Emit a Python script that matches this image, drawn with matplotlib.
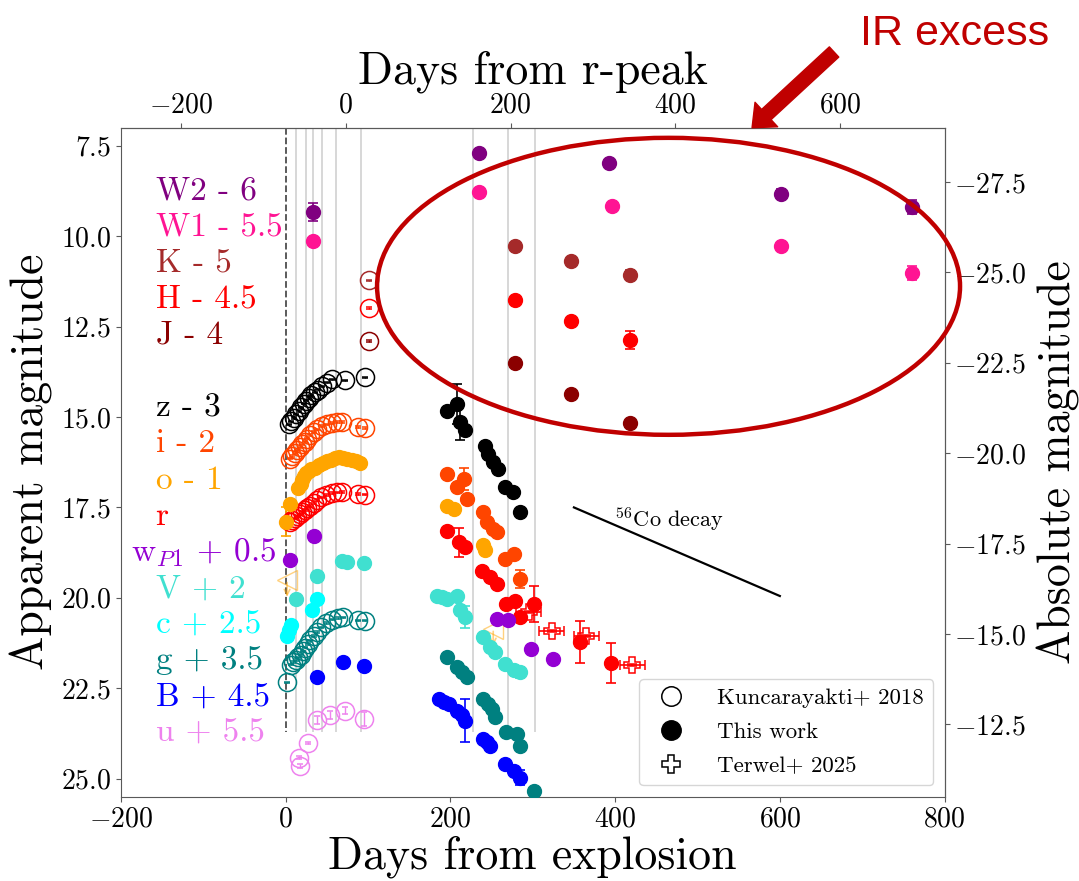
import numpy as np
import matplotlib.pyplot as plt
from matplotlib.lines import Line2D
from matplotlib.patches import Ellipse, FancyArrowPatch, ArrowStyle

plt.rcParams['font.family'] = ['cmr10', 'DejaVu Serif']
plt.rcParams['mathtext.fontset'] = 'cm'
plt.rcParams['axes.formatter.use_mathtext'] = True
plt.rcParams['axes.unicode_minus'] = True

R_PEAK = 73.0      # r-band peak, days after explosion
DIST_MOD = 36.0    # distance modulus

# ---- Kuncarayakti+ 2018 (open circles), offsets already applied ----
z_k_days = [4, 7, 10, 13, 16, 19, 22, 25, 28, 31, 35, 39, 44, 50, 56, 72, 96]
z_k_mags = [15.2, 15.12, 15.03, 14.93, 14.83, 14.73, 14.63, 14.55, 14.47, 14.4,
            14.32, 14.24, 14.15, 14.05, 13.96, 13.99, 13.9]
i_k_days = [5, 8, 11, 14, 17, 20, 23, 26, 30, 34, 38, 44, 50, 56, 62, 68, 88, 96]
i_k_mags = [16.15, 16.08, 16.0, 15.92, 15.84, 15.76, 15.68, 15.6, 15.5, 15.42,
            15.34, 15.25, 15.2, 15.16, 15.14, 15.14, 15.27, 15.3]
r_k_days = [5, 8, 11, 14, 17, 20, 23, 26, 30, 34, 38, 43, 49, 56, 62, 68, 88, 96]
r_k_mags = [17.9, 17.85, 17.8, 17.75, 17.69, 17.63, 17.57, 17.52, 17.46, 17.38,
            17.3, 17.22, 17.16, 17.1, 17.08, 17.07, 17.13, 17.15]
g_k_days = [2, 6, 9, 12, 15, 18, 21, 24, 27, 30, 34, 38, 43, 49, 56, 63, 70, 88, 96]
g_k_mags = [22.34, 21.85, 21.78, 21.72, 21.65, 21.57, 21.48, 21.38, 21.28, 21.18,
            21.06, 20.95, 20.82, 20.7, 20.6, 20.56, 20.54, 20.62, 20.63]
u_k_days = [15.8, 17.8, 26.7, 38, 53.4, 72.4, 95.5]
u_k_mags = [24.42, 24.65, 24.02, 23.38, 23.24, 23.12, 23.35]
u_k_errs = [0.05, 0.05, 0.03, 0.1, 0.12, 0.1, 0.2]
nir_k_day = 101
K_k_mag, H_k_mag, J_k_mag = 11.22, 11.99, 12.9

# ---- This work (filled circles) ----
W2_days = [32.7, 234.5, 392.5, 601, 760]
W2_mags = [9.34, 7.71, 7.97, 8.82, 9.19]
W2_errs = [0.25, 0.03, 0.03, 0.12, 0.2]
W1_days = [32.7, 235, 396, 601, 760]
W1_mags = [10.13, 8.77, 9.16, 10.28, 11.02]
W1_errs = [0.03, 0.03, 0.03, 0.03, 0.2]
nir_days = [278, 346.5, 417.5]
K_mags = [10.28, 10.69, 11.06]
K_errs = [0.03, 0.03, 0.12]
H_mags = [11.77, 12.35, 12.88]
H_errs = [0.03, 0.03, 0.25]
J_mags = [13.51, 14.36, 15.17]
J_errs = [0.03, 0.03, 0.03]

z_days = [196, 208, 212, 218, 242, 246, 252, 258, 266, 276, 285]
z_mags = [14.82, 14.63, 15.14, 15.37, 15.79, 16.02, 16.25, 16.43, 16.94, 17.08, 17.63]
z_errs = [0.05, 0.55, 0.5, 0.05, 0.05, 0.05, 0.05, 0.05, 0.05, 0.05, 0.08]
i_days = [196, 208, 216, 220, 240, 244, 252, 256, 266, 277, 285]
i_mags = [16.57, 16.94, 16.71, 17.26, 17.63, 17.91, 18.09, 18.19, 18.92, 18.78, 19.48]
i_errs = [0.05, 0.05, 0.3, 0.05, 0.05, 0.05, 0.05, 0.05, 0.05, 0.05, 0.25]
o_days = [0.5, 5, 15, 18, 20, 22, 25, 28, 31, 35, 40, 45, 50, 55, 60, 65, 70,
          75, 80, 85, 90, 196, 204, 240, 242]
o_mags = [17.9, 17.4, 16.95, 16.85, 16.75, 16.62, 16.55, 16.5, 16.45, 16.4, 16.33,
          16.27, 16.22, 16.18, 16.13, 16.1, 16.12, 16.15, 16.18, 16.22, 16.27,
          17.45, 17.54, 18.55, 18.69]
o_lim_days = [1.7, 252]
o_lim_mags = [19.5, 20.85]
r_days = [196, 210, 218, 238, 248, 256, 268, 279, 285, 301, 357, 395]
r_mags = [18.14, 18.46, 18.6, 19.25, 19.43, 19.62, 20.17, 20.08, 20.54, 20.17, 21.23, 21.81]
r_errs = [0.05, 0.4, 0.05, 0.05, 0.05, 0.05, 0.05, 0.05, 0.05, 0.5, 0.58, 0.55]
w_days = [5, 34, 256, 270, 298, 324]
w_mags = [18.95, 18.28, 20.58, 20.61, 21.41, 21.69]
V_days = [12, 38, 68, 74, 95, 184, 190, 196, 208, 212, 218, 240, 248, 254, 266, 277, 285]
V_mags = [20.03, 19.39, 18.98, 19.0, 19.03, 19.94, 19.98, 20.03, 19.94, 20.35, 20.54,
          21.09, 21.37, 21.51, 21.83, 22.01, 22.06]
V_errs = [0.05] * 10 + [0.3, 0.05, 0.05, 0.05, 0.05, 0.05, 0.15]
c_days = [1.5, 4, 7, 32, 38]
c_mags = [21.05, 20.9, 20.75, 20.35, 20.03]
g_days = [196, 208, 214, 220, 240, 246, 250, 254, 268, 281, 285, 301]
g_mags = [21.65, 21.92, 22.05, 22.2, 22.8, 22.95, 23.08, 23.31, 23.72, 23.77, 24.09, 25.34]
B_days = [38, 70, 95, 186, 192, 198, 208, 214, 218, 240, 244, 248, 266, 277, 285]
B_mags = [22.18, 21.78, 21.88, 22.8, 22.88, 22.94, 23.12, 23.25, 23.4, 23.9, 24.0,
          24.09, 24.6, 24.78, 24.97]
B_errs = [0.05] * 8 + [0.6, 0.05, 0.05, 0.05, 0.05, 0.05, 0.2]

# ---- Terwel+ 2025 (open plus) ----
r_t_days = [295, 323, 365, 421]
r_t_mags = [20.4, 20.91, 21.05, 21.85]
r_t_xerr = [15, 15, 15, 15]

spec_days = [12, 25, 33, 44, 61, 91, 227, 270, 303]
co_days = [350, 600]
co_mags = [17.5, 19.95]

band_labels = ['W2 - 6', 'W1 - 5.5', 'K - 5', 'H - 4.5', 'J - 4',
               'z - 3', 'i - 2', 'o - 1', 'r', r'w$_{P1}$ + 0.5', 'V + 2',
               'c + 2.5', 'g + 3.5', 'B + 4.5', 'u + 5.5']
band_colors = ['purple', 'deeppink', 'brown', 'red', 'darkred',
               'black', 'orangered', 'orange', 'red', 'darkviolet', 'turquoise',
               'cyan', 'teal', 'blue', 'violet']
label_rows = [0, 1, 2, 3, 4, 6, 7, 8, 9, 10, 11, 12, 13, 14, 15]


def filled(ax, d, m, c, e=None):
    ax.errorbar(d, m, yerr=e, fmt='o', color=c, ms=10, capsize=3.5,
                elinewidth=1.2, capthick=1.2, zorder=3)


def opened(ax, d, m, c, e=0.02):
    ax.errorbar(d, m, yerr=e, fmt='o', color=c, mfc='none', mec=c, ms=13,
                mew=1.1, capsize=2.5, elinewidth=1.0, zorder=3)


def main():
    fig = plt.figure(figsize=(10.79, 8.81), dpi=100)
    ax = fig.add_axes([0.1121, 0.0957, 0.7633, 0.7593])

    ax.vlines(spec_days, 7.0, 23.7, colors='0.82', lw=1.2, zorder=0)
    ax.vlines(0, 7.0, 23.7, colors='0.3', linestyles='--', lw=1.3, zorder=0)

    # early Kuncarayakti
    opened(ax, z_k_days, z_k_mags, 'black')
    opened(ax, i_k_days, i_k_mags, 'orangered')
    opened(ax, r_k_days, r_k_mags, 'red')
    opened(ax, g_k_days, g_k_mags, 'teal')
    opened(ax, u_k_days, u_k_mags, 'violet', u_k_errs)
    opened(ax, [nir_k_day], [K_k_mag], 'brown')
    opened(ax, [nir_k_day], [H_k_mag], 'red')
    opened(ax, [nir_k_day], [J_k_mag], 'darkred')

    # this work
    filled(ax, W2_days, W2_mags, 'purple', W2_errs)
    filled(ax, W1_days, W1_mags, 'deeppink', W1_errs)
    filled(ax, nir_days, K_mags, 'brown', K_errs)
    filled(ax, nir_days, H_mags, 'red', H_errs)
    filled(ax, nir_days, J_mags, 'darkred', J_errs)
    filled(ax, z_days, z_mags, 'black', z_errs)
    filled(ax, i_days, i_mags, 'orangered', i_errs)
    filled(ax, o_days, o_mags, 'orange', [0.4] + [0.03] * (len(o_days) - 1))
    filled(ax, r_days, r_mags, 'red', r_errs)
    filled(ax, w_days, w_mags, 'darkviolet')
    filled(ax, V_days, V_mags, 'turquoise', V_errs)
    filled(ax, c_days, c_mags, 'cyan')
    filled(ax, g_days, g_mags, 'teal')
    filled(ax, B_days, B_mags, 'blue', B_errs)

    # o-band upper limits
    ax.plot(o_lim_days, o_lim_mags, '<', mfc='none', mec='orange', ms=14,
            alpha=0.5, zorder=2)
    for d, m in zip(o_lim_days, o_lim_mags):
        ax.annotate('', xy=(d, m + 0.55), xytext=(d, m),
                    arrowprops=dict(arrowstyle='->', color='orange', alpha=0.5, lw=1.2))

    # Terwel
    ax.errorbar(r_t_days, r_t_mags, xerr=r_t_xerr, yerr=0.03, fmt='P', color='red',
                mfc='none', mec='red', ms=11, mew=1.1, capsize=3.5, elinewidth=1.2,
                zorder=3)

    ax.plot(co_days, co_mags, color='black', lw=1.6)
    ax.text(400, 18.03, r'$^{56}$Co decay', fontsize=16, va='baseline')

    for lab, col, row in zip(band_labels, band_colors, label_rows):
        x = -188 if lab.startswith('w') else -158
        ax.text(x, 8.98 + row, lab, color=col, fontsize=24, va='baseline')

    ax.set_xlim(-200, 800)
    ax.set_ylim(25.5, 7.0)
    ax.set_yticks(np.arange(7.5, 25.1, 2.5))
    ax.set_xticks([-200, 0, 200, 400, 600, 800])
    ax.set_xlabel('Days from explosion', fontsize=33, labelpad=2)
    ax.set_ylabel('Apparent magnitude', fontsize=33, labelpad=6)
    ax.tick_params(labelsize=20, color='0.35')
    for s in ax.spines.values():
        s.set_color('0.35')

    top = ax.secondary_xaxis('top', functions=(lambda x: x - R_PEAK, lambda x: x + R_PEAK))
    top.set_xticks([-200, 0, 200, 400, 600])
    top.set_xlabel('Days from r-peak', fontsize=33, labelpad=6)
    top.tick_params(labelsize=20, color='0.35')
    top.spines['top'].set_color('0.35')

    right = ax.secondary_yaxis('right', functions=(lambda m: m - DIST_MOD,
                                                   lambda M: M + DIST_MOD))
    right.set_yticks([-27.5, -25.0, -22.5, -20.0, -17.5, -15.0, -12.5])
    right.set_ylabel('Absolute magnitude', fontsize=33, labelpad=8)
    right.tick_params(labelsize=20, color='0.35')
    right.spines['right'].set_color('0.35')

    handles = [Line2D([], [], marker='o', ls='', mfc='none', mec='k', ms=14, mew=1.1),
               Line2D([], [], marker='o', ls='', color='k', ms=14),
               Line2D([], [], marker='P', ls='', mfc='none', mec='k', ms=13, mew=1.1)]
    ax.legend(handles, ['Kuncarayakti+ 2018', 'This work', 'Terwel+ 2025'],
              loc='lower right', fontsize=16.5, borderaxespad=0.5, handletextpad=1.0,
              labelspacing=0.6)

    # IR excess annotation
    fig.add_artist(Ellipse((0.6196, 0.675), 0.5403, 0.3371, transform=fig.transFigure,
                           fill=False, ec='#C00000', lw=3.2, zorder=5))
    fig.add_artist(FancyArrowPatch((0.773, 0.941), (0.697, 0.855),
                                   transform=fig.transFigure,
                                   arrowstyle=ArrowStyle.Simple(head_length=14, head_width=24,
                                                                tail_width=10),
                                   mutation_scale=1, color='#C00000', shrinkA=0, shrinkB=0))
    fig.text(0.797, 0.949, 'IR excess', color='#C00000', fontsize=31,
             family='Liberation Sans', va='baseline')

    fig.savefig('out.png', dpi=100)


if __name__ == "__main__":
    main()
